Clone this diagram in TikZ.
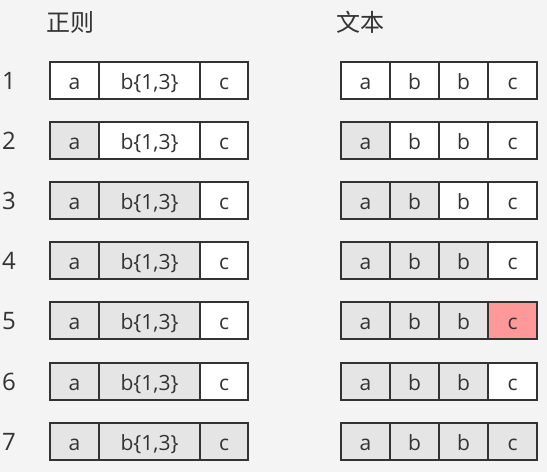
\documentclass[tikz,border=0pt]{standalone}
\usepackage{fontspec}
\setmainfont{Open Sans}
\newfontfamily\cjkfont{Noto Sans CJK SC}
\usetikzlibrary{positioning}
\definecolor{RXcolBG}{HTML}{f4f4f4}
\definecolor{RXcolLine}{HTML}{333333}
\definecolor{RXcolHit}{HTML}{e5e5e5}
\definecolor{RXcolFail}{HTML}{ff9999}

\begin{document}
\begin{tikzpicture}[y=1pt, x=1pt, yscale=-1, inner sep=0pt, outer sep=0pt,
    cell/.style={draw=RXcolLine, line width=2pt, minimum height=37pt,
      text height=18pt, text depth=0pt,
      text=RXcolLine, font=\fontsize{21}{24}\selectfont},
    label/.style={text=RXcolLine, font=\fontsize{24}{28}\selectfont},
    rownum/.style={label, text height=18pt, text depth=0pt}]
  \path[fill=RXcolBG] (0,0) rectangle (547,472);
  \node[label] (hdrRegex) at (70,22) {\cjkfont 正则};
  \node[label] (hdrText) at (360,22) {\cjkfont 文本};
  % one row per step: regex cells a,b,c then text cells a,b,b,c
  \foreach \row/\la/\lb/\lc/\ra/\rb/\rc/\rd in {
      1/white/white/white/white/white/white/white,
      2/RXcolHit/white/white/RXcolHit/white/white/white,
      3/RXcolHit/RXcolHit/white/RXcolHit/RXcolHit/white/white,
      4/RXcolHit/RXcolHit/white/RXcolHit/RXcolHit/RXcolHit/white,
      5/RXcolHit/RXcolHit/white/RXcolHit/RXcolHit/RXcolHit/RXcolFail,
      6/RXcolHit/RXcolHit/white/RXcolHit/RXcolHit/RXcolHit/white,
      7/RXcolHit/RXcolHit/RXcolHit/RXcolHit/RXcolHit/RXcolHit/RXcolHit} {
    \node[rownum] (num\row) at (9,{80+60.2*(\row-1)}) {\row};
    \node[cell, fill=\la, minimum width=49pt] (L\row a) at (74.5,{80+60.2*(\row-1)}) {a};
    \node[cell, fill=\lb, minimum width=101pt, right=0pt of L\row a] (L\row b) {b\{1,3\}};
    \node[cell, fill=\lc, minimum width=48pt, right=0pt of L\row b] (L\row c) {c};
    \node[cell, fill=\ra, minimum width=49pt] (R\row a) at (365.5,{80+60.2*(\row-1)}) {a};
    \node[cell, fill=\rb, minimum width=49pt, right=0pt of R\row a] (R\row b) {b};
    \node[cell, fill=\rc, minimum width=49pt, right=0pt of R\row b] (R\row c) {b};
    \node[cell, fill=\rd, minimum width=49pt, right=0pt of R\row c] (R\row d) {c};
  }
\end{tikzpicture}
\end{document}
